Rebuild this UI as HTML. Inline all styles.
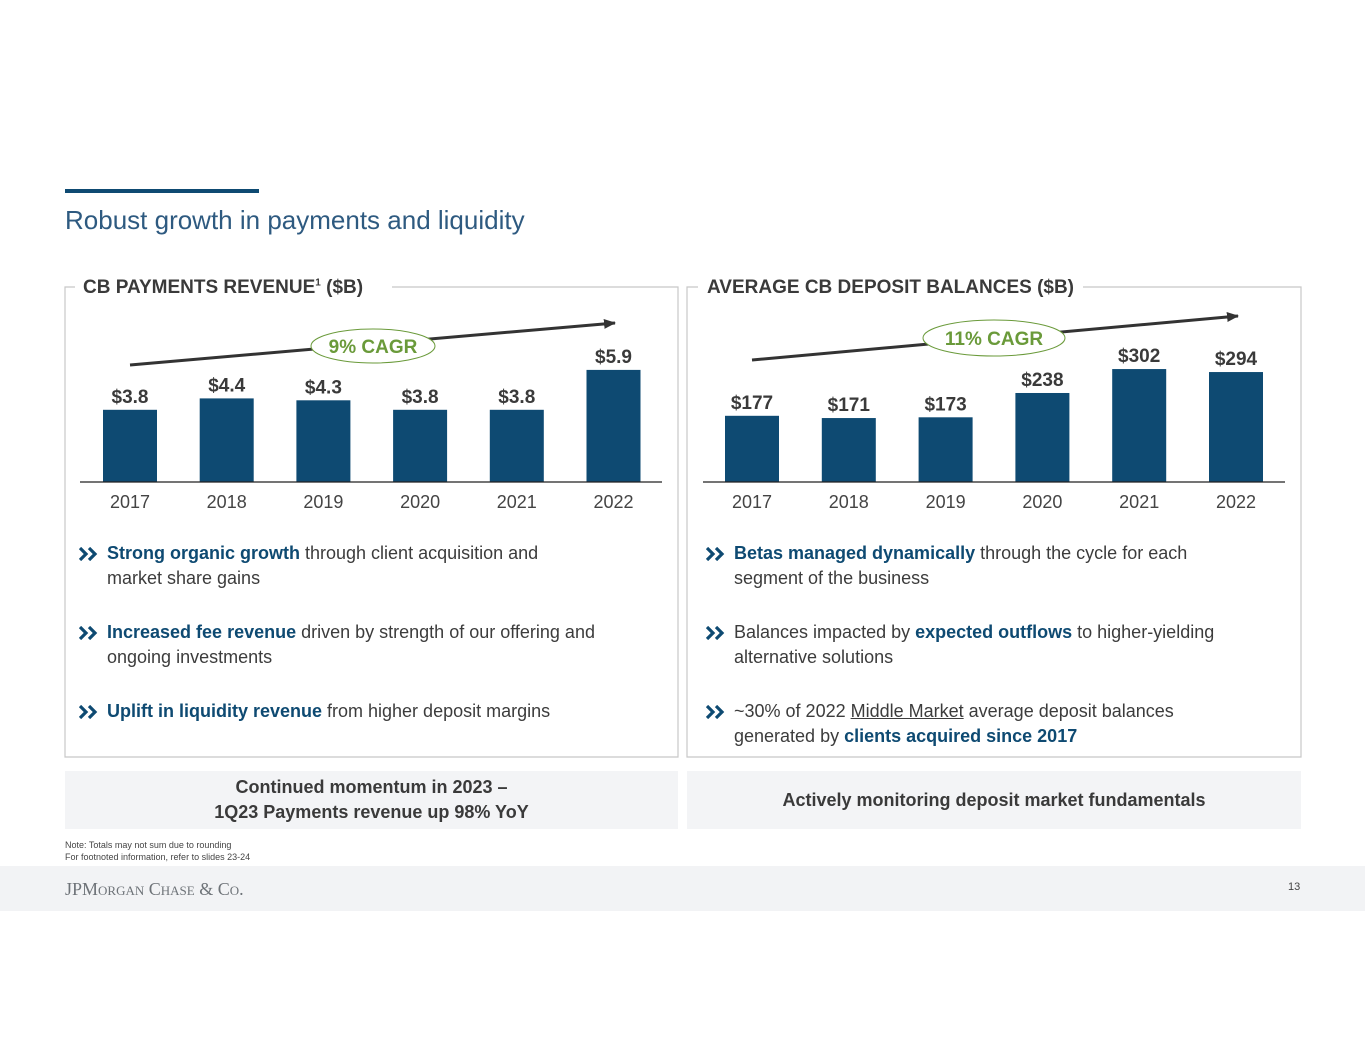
<!DOCTYPE html>
<html><head><meta charset="utf-8"><style>
body{margin:0;width:1365px;height:1055px;background:#fff;font-family:"Liberation Sans",Arial,sans-serif;position:relative;overflow:hidden}
.a{position:absolute}
.bl{font-size:18px;color:#3c3c3c;line-height:25px}
.bl b{color:#0e4a72}
.ch{position:absolute;left:-28px;top:6px}
.box{position:absolute;background:#f3f4f6;font-size:18px;font-weight:bold;color:#3a3a3a;text-align:center;display:flex;align-items:center;justify-content:center;line-height:25px}
</style></head><body>
<div class="a" style="left:65px;top:189px;width:194px;height:4px;background:#0e4a72"></div>
<div class="a" style="left:65px;top:205px;font-size:26px;color:#2e5a80">Robust growth in payments and liquidity</div>

<svg class="a" style="left:0;top:0" width="1365" height="1055">
<defs><marker id="ar" markerUnits="userSpaceOnUse" markerWidth="12" markerHeight="10" refX="11" refY="5" orient="auto"><path d="M0,0 L12,5 L0,10z" fill="#333"/></marker></defs>
<path d="M75,287 H65 V757 H678 V287 H392" fill="none" stroke="#c8c8c8" stroke-width="1.2"/>
<path d="M698,287 H687 V757 H1301 V287 H1083" fill="none" stroke="#c8c8c8" stroke-width="1.2"/>
<g id="left"></g><g id="right"></g>
</svg>
<div class="a" style="left:83px;top:277px;font-size:19px;font-weight:bold;color:#3a3a3a">CB PAYMENTS REVENUE<sup style="font-size:10px">1</sup> ($B)</div>
<div class="a" style="left:707px;top:277px;font-size:19px;font-weight:bold;color:#3a3a3a">AVERAGE CB DEPOSIT BALANCES ($B)</div>

<div class="a bl" style="left:107px;top:541px;width:465px"><svg class="ch" width="22" height="14"><path d="M1,1 L7,7 L1,13 M10,1 L16,7 L10,13" fill="none" stroke="#0e4a72" stroke-width="3.2"/></svg><b>Strong organic growth</b> through client acquisition and market share gains</div>
<div class="a bl" style="left:107px;top:620px;width:530px"><svg class="ch" width="22" height="14"><path d="M1,1 L7,7 L1,13 M10,1 L16,7 L10,13" fill="none" stroke="#0e4a72" stroke-width="3.2"/></svg><b>Increased fee revenue</b> driven by strength of our offering and ongoing investments</div>
<div class="a bl" style="left:107px;top:699px;width:530px"><svg class="ch" width="22" height="14"><path d="M1,1 L7,7 L1,13 M10,1 L16,7 L10,13" fill="none" stroke="#0e4a72" stroke-width="3.2"/></svg><b>Uplift in liquidity revenue</b> from higher deposit margins</div>
<div class="a bl" style="left:734px;top:541px;width:500px"><svg class="ch" width="22" height="14"><path d="M1,1 L7,7 L1,13 M10,1 L16,7 L10,13" fill="none" stroke="#0e4a72" stroke-width="3.2"/></svg><b>Betas managed dynamically</b> through the cycle for each segment of the business</div>
<div class="a bl" style="left:734px;top:620px;width:530px"><svg class="ch" width="22" height="14"><path d="M1,1 L7,7 L1,13 M10,1 L16,7 L10,13" fill="none" stroke="#0e4a72" stroke-width="3.2"/></svg>Balances impacted by <b>expected outflows</b> to higher-yielding alternative solutions</div>
<div class="a bl" style="left:734px;top:699px;width:500px"><svg class="ch" width="22" height="14"><path d="M1,1 L7,7 L1,13 M10,1 L16,7 L10,13" fill="none" stroke="#0e4a72" stroke-width="3.2"/></svg>~30% of 2022 <u>Middle Market</u> average deposit balances generated by <b>clients acquired since 2017</b></div>

<div class="box" style="left:65px;top:771px;width:613px;height:58px">Continued momentum in 2023 –<br>1Q23 Payments revenue up 98% YoY</div>
<div class="box" style="left:687px;top:771px;width:614px;height:58px">Actively monitoring deposit market fundamentals</div>
<div class="a" style="left:65px;top:839px;font-size:9px;color:#444;line-height:12px">Note: Totals may not sum due to rounding<br>For footnoted information, refer to slides 23-24</div>
<div class="a" style="left:0;top:866px;width:1365px;height:45px;background:#f2f3f5"></div>
<div class="a" style="left:65px;top:879px;font-family:'Liberation Serif',serif;font-size:18px;color:#6e7378;font-variant:small-caps">JPMorgan Chase &amp; Co.</div>
<div class="a" style="left:1288px;top:881px;font-size:11px;color:#444">13</div>

<script>
const years=["2017","2018","2019","2020","2021","2022"];
const payVals=[3.8,4.4,4.3,3.8,3.8,5.9];
const payLabels=["$3.8","$4.4","$4.3","$3.8","$3.8","$5.9"];
const depVals=[177,171,173,238,302,294];
const depLabels=["$177","$171","$173","$238","$302","$294"];
const NS="http://www.w3.org/2000/svg";
function mk(p,t,a){const e=document.createElementNS(NS,t);for(const k in a)e.setAttribute(k,a[k]);p.appendChild(e);return e;}
function draw(gid,vals,labels,x0,step,pxPer,axL,axR,arrow,ell,cagr,pre){
 const g=document.getElementById(gid);const base=482;
 const xs=i=>x0+i*step;const ys=v=>base-v*pxPer;
 vals.forEach((v,i)=>{
  const r=mk(g,'rect',{x:xs(i)-27,y:ys(v),width:54,height:base-ys(v),fill:'#0e4a72'});
  
  
  const t=mk(g,'text',{x:xs(i),y:ys(v)-7,'text-anchor':'middle','font-size':19,'font-weight':'bold',fill:'#3a3a3a'});t.textContent=labels[i];
  
  
  const y=mk(g,'text',{x:xs(i),y:508,'text-anchor':'middle','font-size':18,fill:'#444'});y.textContent=years[i];
  
  
 });
 const ax=mk(g,'line',{x1:axL,x2:axR,y1:base,y2:base,stroke:'#222','stroke-width':1.3});
 
 
 const ln=mk(g,'line',{x1:arrow[0],y1:arrow[1],x2:arrow[2],y2:arrow[3],stroke:'#333','stroke-width':3,'marker-end':'url(#ar)'});
 
 
 const el=mk(g,'ellipse',{cx:ell[0],cy:ell[1],rx:ell[2],ry:ell[3],fill:'#fff',stroke:'#6a9a3a','stroke-width':1});
 
 
 const ct=mk(g,'text',{x:ell[0],y:ell[1]+7,'text-anchor':'middle','font-size':19,'font-weight':'bold',fill:'#6a9a3a'});ct.textContent=cagr;
 
 
}
draw('left',payVals,payLabels,130,96.7,19,80,662,[130,365,615,323],[373,346,62,17],'9% CAGR','payments');
draw('right',depVals,depLabels,752,96.8,0.374,703,1285,[752,360,1238,316],[994,338,71,18],'11% CAGR','deposits');
</script>
</body></html>
